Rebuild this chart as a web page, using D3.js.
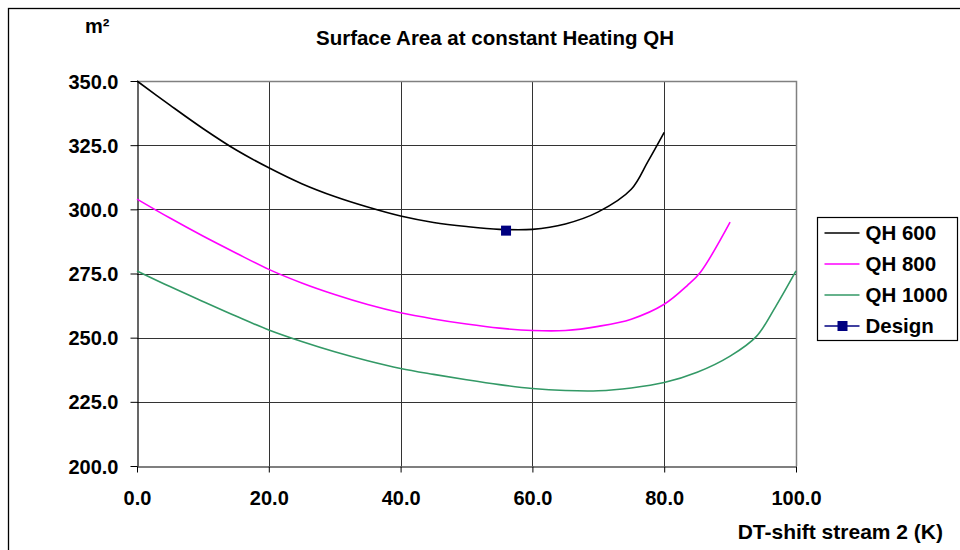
<!DOCTYPE html>
<html lang="en">
<head>
<meta charset="UTF-8">
<title>Surface Area at constant Heating QH</title>
<script src="https://d3js.org/d3.v7.min.js"></script>
<style>
    body { margin: 0; background: #fff; }
    svg { font-family: Arial, "Liberation Sans", sans-serif; font-weight: bold; }
    .grid line { stroke: #333; stroke-width: 1px; }
    .series { fill: none; stroke-width: 1.6px; }
</style>
</head>
<body>
<svg id="chart" width="960" height="550"></svg>
<script>
    // values
    const xQH600 = [0, 5, 10, 15, 20, 25, 30, 35, 40, 45, 50, 55, 60, 65, 70, 75, 77.5, 80];
    const yQH600 = [350, 340.6, 331.5, 323.2, 316.2, 310, 305, 300.9, 297.4, 294.9, 293.3, 292.2, 292.2, 294.3, 299, 307.8, 318.5, 330];

    const xQH800 = [0, 5, 10, 15, 20, 25, 30, 35, 40, 45, 50, 55, 60, 65, 70, 75, 80, 83.5, 85.5, 90];
    const yQH800 = [304, 296.6, 289.6, 283, 276.6, 271.3, 266.8, 262.9, 259.7, 257.3, 255.3, 253.7, 252.8, 252.8, 254.4, 257.2, 263, 270.3, 275.5, 295];

    const xQH1000 = [0, 5, 10, 15, 20, 25, 30, 35, 40, 45, 50, 55, 60, 65, 70, 75, 80, 85, 90, 94, 97, 100];
    const yQH1000 = [276, 269.9, 264.1, 258.4, 253, 248.5, 244.5, 241, 238, 235.7, 233.6, 231.7, 230.2, 229.4, 229.3, 230.4, 232.5, 236.5, 242.8, 250.5, 262.5, 276];

    const designX = [56];
    const designY = [291.7];

    const xTicks = [0, 20, 40, 60, 80, 100];
    const yTicks = [200, 225, 250, 275, 300, 325, 350];

    const seriesNames = ["QH 600", "QH 800", "QH 1000", "Design"];
    const seriesColors = ["#000000", "#ff00ff", "#339966", "#000080"];

    const svg = d3.select("#chart");

    // outer chart frame (runs off the right and bottom of the picture)
    svg.append("rect")
        .attr("x", 8.5).attr("y", 8.5)
        .attr("width", 1000).attr("height", 600)
        .attr("fill", "none").attr("stroke", "#000").attr("stroke-width", 1.3);

    const plot = { left: 137, top: 81, right: 796, bottom: 466 };

    const x = d3.scaleLinear().domain([0, 100]).range([plot.left, plot.right]);
    const y = d3.scaleLinear().domain([200, 350]).range([plot.bottom, plot.top]);

    // grid
    const grid = svg.append("g").attr("class", "grid");
    grid.selectAll(".gx")
        .data(xTicks.filter(d => d > 0 && d < 100))
        .join("line")
        .attr("x1", d => Math.round(x(d)) + 0.5).attr("x2", d => Math.round(x(d)) + 0.5)
        .attr("y1", plot.top).attr("y2", plot.bottom);
    grid.selectAll(".gy")
        .data(yTicks.filter(d => d > 200 && d < 350))
        .join("line")
        .attr("x1", plot.left).attr("x2", plot.right)
        .attr("y1", d => Math.round(y(d)) + 0.5).attr("y2", d => Math.round(y(d)) + 0.5);

    // plot area border, top and right
    svg.append("path")
        .attr("d", `M${plot.left},${plot.top + 0.5}H${plot.right + 0.5}V${plot.bottom}`)
        .attr("fill", "none").attr("stroke", "#808080").attr("stroke-width", 1.5);

    // axes
    const xAxis = svg.append("g")
        .attr("transform", `translate(0,${plot.bottom + 0.5})`)
        .call(d3.axisBottom(x).tickValues(xTicks).tickFormat(d3.format(".1f")).tickSize(6).tickSizeOuter(0));
    const yAxis = svg.append("g")
        .attr("transform", `translate(${plot.left + 0.5},0)`)
        .call(d3.axisLeft(y).tickValues(yTicks).tickFormat(d3.format(".1f")).tickSize(7).tickSizeOuter(0));

    [xAxis, yAxis].forEach(a => {
        a.select(".domain").attr("stroke", "#000").attr("stroke-width", 1.2);
        a.selectAll(".tick line").attr("stroke", "#000");
        a.selectAll(".tick text")
            .attr("fill", "#000")
            .style("font-size", "20px")
            .style("font-family", "Arial, 'Liberation Sans', sans-serif")
            .style("font-weight", "bold");
    });
    xAxis.selectAll(".tick text").attr("dy", null).attr("y", 38);
    yAxis.selectAll(".tick text").attr("x", -19).attr("dy", "0.35em");

    // series
    const line = d3.line()
        .x(d => x(d[0]))
        .y(d => y(d[1]))
        .curve(d3.curveCatmullRom.alpha(0.5));

    const curves = [
        d3.zip(xQH600, yQH600),
        d3.zip(xQH800, yQH800),
        d3.zip(xQH1000, yQH1000)
    ];

    svg.selectAll(".series")
        .data(curves)
        .join("path")
        .attr("class", "series")
        .attr("stroke", (d, i) => seriesColors[i])
        .attr("d", line);

    svg.selectAll(".design")
        .data(d3.zip(designX, designY))
        .join("rect")
        .attr("class", "design")
        .attr("x", d => x(d[0]) - 5)
        .attr("y", d => y(d[1]) - 5)
        .attr("width", 10).attr("height", 10)
        .attr("fill", seriesColors[3]);

    // titles
    svg.append("text")
        .attr("x", 495).attr("y", 45)
        .attr("text-anchor", "middle")
        .style("font-size", "20.5px")
        .text("Surface Area at constant Heating QH");

    svg.append("text")
        .attr("x", 85).attr("y", 33)
        .style("font-size", "20px")
        .text("m²");

    svg.append("text")
        .attr("x", 943).attr("y", 539)
        .attr("text-anchor", "end")
        .style("font-size", "21px")
        .text("DT-shift stream 2 (K)");

    // legend
    const legend = svg.append("g").attr("transform", "translate(817.5,217.5)");
    legend.append("rect")
        .attr("width", 140).attr("height", 123)
        .attr("fill", "#fff").attr("stroke", "#000").attr("stroke-width", 1.2);

    const item = legend.selectAll(".item")
        .data(seriesNames)
        .join("g")
        .attr("class", "item")
        .attr("transform", (d, i) => `translate(0,${15.5 + i * 31})`);

    item.append("line")
        .attr("x1", 7).attr("x2", 42)
        .attr("stroke", (d, i) => seriesColors[i])
        .attr("stroke-width", 1.6);

    item.filter((d, i) => i === 3)
        .append("rect")
        .attr("x", 20).attr("y", -5)
        .attr("width", 10).attr("height", 10)
        .attr("fill", seriesColors[3]);

    item.append("text")
        .attr("x", 48).attr("dy", "0.35em")
        .style("font-size", "20.5px")
        .text(d => d);
</script>
</body>
</html>
